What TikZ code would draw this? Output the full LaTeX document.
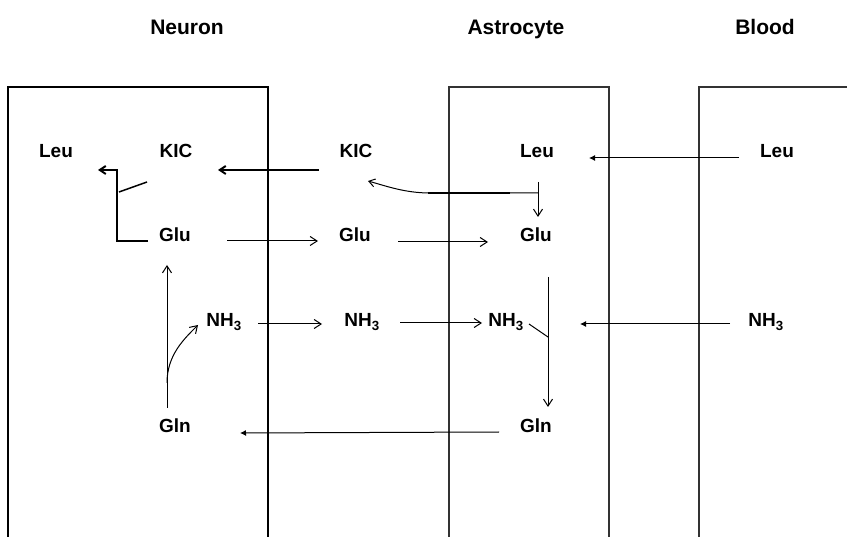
\documentclass[tikz,border=0pt]{standalone}
\usepackage{fontspec}
\setmainfont{Liberation Sans}
\usetikzlibrary{calc,arrows.meta}
\begin{document}
\begin{tikzpicture}[x=1pt,y=-1pt,
  lbl/.style={anchor=base,inner sep=0pt,font=\fontsize{19}{19}\selectfont\bfseries},
  ttl/.style={anchor=base,inner sep=0pt,font=\fontsize{21}{21}\selectfont\bfseries},
  thickwall/.style={line width=2pt},
  thinwall/.style={line width=1.2pt,black!80},
  openarr/.style={line width=1pt,-{Straight Barb[length=7pt,width=9pt]}},
  fillarr/.style={line width=1pt,-{Latex[length=6pt,width=6pt]}},
  thickarr/.style={line width=2pt,-{Straight Barb[length=6pt,width=8pt]}},
  flux/.style={line width=1pt}
]
\useasboundingbox[fill=white] (0,0) rectangle (847,537);
% compartments
\draw[thickwall] (8,537) -- (8,87) -- (268,87) -- (268,537);
\draw[thinwall] (449,537) -- (449,87) -- (609,87) -- (609,537);
\draw[thinwall] (699,537) -- (699,87) -- (847,87);
% titles
\node[ttl] (tNeuron) at (187,35) {Neuron};
\node[ttl] (tAstro) at (516,35) {Astrocyte};
\node[ttl] (tBlood) at (765,35) {Blood};
% labels
\node[lbl] (nLeu) at (56,158) {Leu};
\node[lbl] (nKIC) at (176,158) {KIC};
\node[lbl] (nGlu) at (175,242) {Glu};
\node[lbl] (nNH3) at (224,327) {NH\textsubscript{3}};
\node[lbl] (nGln) at (175,433) {Gln};
\node[lbl] (mKIC) at (356,158) {KIC};
\node[lbl] (mGlu) at (355,242) {Glu};
\node[lbl] (mNH3) at (362,327) {NH\textsubscript{3}};
\node[lbl] (aLeu) at (537,158) {Leu};
\node[lbl] (aGlu) at (536,242) {Glu};
\node[lbl] (aNH3) at (506,327) {NH\textsubscript{3}};
\node[lbl] (aGln) at (536,433) {Gln};
\node[lbl] (bLeu) at (777,158) {Leu};
\node[lbl] (bNH3) at (766,327) {NH\textsubscript{3}};
% KIC transport astro side -> neuron
\draw[thickarr] ($(mKIC.base)+(-37,12)$) -- ($(nKIC.base)+(42,12)$);
% neuron Glu + KIC -> Leu
\draw[line width=2pt,-{Straight Barb[length=6pt,width=8pt]}]
  ($(nGlu.base)+(-27,-1)$) -- ++(-31,0) |- ($(nLeu.base)+(42,12)$);
\draw[line width=1.5pt] ($(nKIC.base)+(-29,24)$) -- ++(-28,10);
% Glu transport
\draw[openarr] ($(nGlu.base)+(52,-1)$) -- ($(mGlu.base)+(-37,-1)$);
\draw[openarr] ($(mGlu.base)+(43,0)$) -- ($(aGlu.base)+(-48,0)$);
% astro Leu -> Glu with KIC branch
\draw[openarr] ($(aLeu.base)+(1,24)$) -- ($(aGlu.base)+(2,-25)$);
\draw[flux,-{Straight Barb[length=6pt,width=8pt]}]
  ($(aLeu.base)+(1,35)$) -- ++(-108,0)
  .. controls +(-25,0) and +(18,5) .. ($(mKIC.base)+(12,23)$);
\draw[line width=2pt] ($(aLeu.base)+(-27,35)$) -- ++(-82,0);
% neuron Gln -> Glu, Gln -> NH3
\draw[openarr] ($(nGln.base)+(-8,-25)$) -- ($(nGlu.base)+(-8,23)$);
\draw[openarr] ($(nGln.base)+(-8,-50)$)
  .. controls +(0,-28) and +(-14,14) .. ($(nNH3.base)+(-26,-2)$);
% NH3 transport
\draw[openarr] ($(nNH3.base)+(34,-3)$) -- ($(mNH3.base)+(-40,-3)$);
\draw[openarr] ($(mNH3.base)+(38,-4)$) -- ($(aNH3.base)+(-24,-4)$);
% astro Glu + NH3 -> Gln
\draw[openarr] ($(aGlu.base)+(12,35)$) -- ($(aGln.base)+(12,-26)$);
\draw[flux] ($(aNH3.base)+(23,-3)$) -- ++(19,13);
% blood uptake
\draw[fillarr] ($(bNH3.base)+(-36,-3)$) -- ($(aNH3.base)+(74,-3)$);
\draw[fillarr] ($(bLeu.base)+(-38,0)$) -- ($(aLeu.base)+(52,0)$);
% Gln astro -> neuron
\draw[fillarr] ($(aGln.base)+(-37,-1)$) -- ($(nGln.base)+(65,0)$);
\end{tikzpicture}
\end{document}
